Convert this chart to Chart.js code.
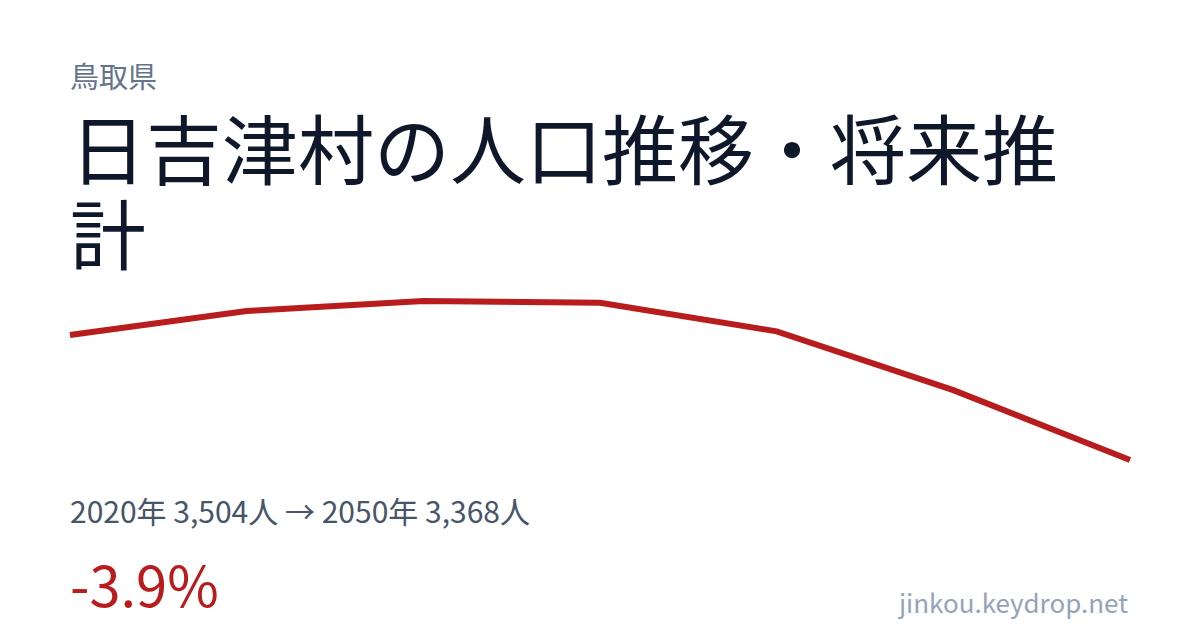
<!DOCTYPE html>
<html lang="ja">
<head>
<meta charset="utf-8">
<script src="https://cdn.jsdelivr.net/npm/chart.js@4.4.1/dist/chart.umd.min.js"></script>
<style>
  html, body { margin: 0; padding: 0; background: #fff; }
  body { width: 1200px; height: 630px; position: relative; overflow: hidden;
         font-family: "Noto Sans CJK JP", "Noto Sans", sans-serif; }
  .pref { position: absolute; left: 70px; top: 61px; font-size: 29px; line-height: 1; color: #64748b; }
  .title { position: absolute; left: 70px; top: 104px; width: 1060px; font-size: 76px; line-height: 85px; color: #0f172a; }
  .stats { position: absolute; left: 70px; top: 495px; font-size: 30px; line-height: 1; color: #475569; }
  .rate { position: absolute; left: 70px; top: 555px; font-size: 56px; line-height: 1; color: #b91c1c; }
  .site { position: absolute; right: 72px; top: 589px; font-size: 26px; line-height: 1; color: #94a3b8; }
  #wrap { position: absolute; left: 60px; top: 290px; width: 1080px; height: 180px; }
</style>
</head>
<body>
<div class="pref">鳥取県</div>
<div class="title">日吉津村の人口推移・将来推計</div>
<div id="wrap"><canvas id="chart"></canvas></div>
<div class="stats" id="stats"></div>
<div class="rate" id="rate"></div>
<div class="site">jinkou.keydrop.net</div>
<script>
// 国勢調査・将来推計人口（読み取り値）
const years = ['2020', '2025', '2030', '2035', '2040', '2045', '2050'];
const population = [3504, 3530, 3541, 3539, 3508, 3444, 3368];

const first = population[0];
const last = population[population.length - 1];
const fmt = n => n.toLocaleString('en-US');

document.getElementById('stats').textContent =
  years[0] + '年 ' + fmt(first) + '人 → ' + years[years.length - 1] + '年 ' + fmt(last) + '人';
document.getElementById('rate').textContent =
  ((last - first) / first * 100).toFixed(1) + '%';

const ctx = document.getElementById('chart').getContext('2d');
new Chart(ctx, {
  type: 'line',
  data: {
    labels: years,
    datasets: [{
      data: population,
      borderColor: '#b91c1c',
      borderWidth: 6,
      pointRadius: 0,
      fill: false,
      tension: 0,
      clip: false
    }]
  },
  options: {
    responsive: true,
    maintainAspectRatio: false,
    animation: false,
    layout: { padding: { left: 10, right: 10, top: 11, bottom: 10 } },
    plugins: { legend: { display: false }, tooltip: { enabled: false } },
    scales: {
      x: { display: false, offset: false },
      y: { display: false, min: Math.min(...population), max: Math.max(...population) }
    }
  }
});
</script>
</body>
</html>
